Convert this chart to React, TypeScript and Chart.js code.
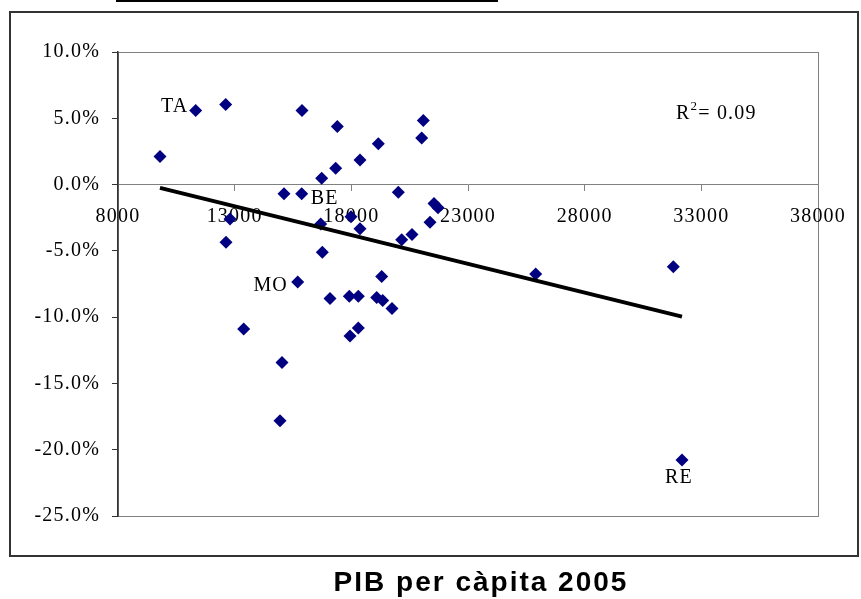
import React, { useEffect, useRef } from 'react';
import { Chart, registerables } from 'chart.js';

Chart.register(...registerables);

// GDP per capita 2005 (x) and growth (%) (y)
const gdpPerCapita = [
  9800, 11330, 12616, 15886, 17399, 21084, 21016, 19156, 18371, 17330,
  16730, 15114, 15873, 20013, 12800, 12629, 16687, 17986, 18371, 16756,
  20159, 20600, 21371, 21543, 21714, 15701, 19301, 17086, 17913, 18299,
  19087, 19344, 19743, 13387, 18299, 17943, 15029, 14943, 25901, 31799,
  32171,
];
const growth = [
  2.11, 5.58, 6.04, 5.58, 4.38, 4.83, 3.52, 3.07, 1.86, 1.23,
  0.48, -0.7, -0.7, -0.58, -2.59, -4.35, -2.97, -2.42, -3.34, -5.11,
  -4.17, -3.77, -2.85, -1.43, -1.74, -7.34, -6.94, -8.6, -8.43, -8.43,
  -8.51, -8.75, -9.34, -10.89, -10.82, -11.42, -13.43, -17.81, -6.74, -6.19,
  -20.78,
];

// linear trend line end points
const trendX = [9800, 32171];
const trendY = [-0.25, -9.96];

const xTicks = [8000, 13000, 18000, 23000, 28000, 33000, 38000];
const yTicks = [-25, -20, -15, -10, -5, 0, 5, 10];

const pointLabels = ['TA', 'BE', 'MO', 'RE'];
const pointLabelIndex = [1, 10, 25, 40];
const rSquared = 0.09;
const xTitle = 'PIB per càpita 2005';

// label placement (style, in pixels relative to the labelled point)
const labelOffsets: Record<string, [number, number]> = {
  TA: [-21, -4],
  BE: [3, 21],
  MO: [-27, 4],
  RE: [-3, 18],
};

const SERIF = '"Liberation Serif", "Times New Roman", serif';

const decorPlugin = {
  id: 'decor',
  beforeDraw(chart: any) {
    const { ctx, chartArea: a } = chart;
    (ctx as any).letterSpacing = '1.2px';
    ctx.save();
    ctx.strokeStyle = '#808080';
    ctx.lineWidth = 1;
    ctx.strokeRect(
      Math.round(a.left) + 0.5,
      Math.round(a.top) + 0.5,
      Math.round(a.right - a.left),
      Math.round(a.bottom - a.top)
    );
    ctx.restore();
  },
  afterDatasetsDraw(chart: any) {
    const { ctx, chartArea: a } = chart;
    const meta = chart.getDatasetMeta(1);
    ctx.save();
    (ctx as any).letterSpacing = '1.2px';
    ctx.fillStyle = '#000';
    ctx.font = `20px ${SERIF}`;
    ctx.textAlign = 'center';
    ctx.textBaseline = 'middle';
    pointLabels.forEach((t, i) => {
      const el = meta.data[pointLabelIndex[i]];
      if (!el) return;
      const [dx, dy] = labelOffsets[t];
      ctx.fillText(t, el.x + dx, el.y + dy);
    });
    // R² annotation
    ctx.textAlign = 'left';
    ctx.textBaseline = 'alphabetic';
    const x0 = a.right - 142;
    const base = a.top + 67;
    ctx.fillText('R', x0, base);
    const wR = ctx.measureText('R').width;
    ctx.font = `13px ${SERIF}`;
    ctx.fillText('2', x0 + wR, base - 9);
    const w2 = ctx.measureText('2').width;
    ctx.font = `20px ${SERIF}`;
    ctx.fillText('= ' + rSquared.toFixed(2), x0 + wR + w2, base);
    ctx.restore();
  },
};

export default function App() {
  const canvasRef = useRef<HTMLCanvasElement | null>(null);

  useEffect(() => {
    const canvas = canvasRef.current;
    if (!canvas) return;
    const chart = new Chart(canvas, {
      type: 'scatter',
      data: {
        datasets: [
          {
            label: 'trend',
            data: trendX.map((x, i) => ({ x, y: trendY[i] })),
            showLine: true,
            borderColor: '#000000',
            borderWidth: 4,
            pointRadius: 0,
            order: 0,
          } as any,
          {
            label: 'regions',
            data: gdpPerCapita.map((x, i) => ({ x, y: growth[i] })),
            pointStyle: 'rectRot',
            pointRadius: 6.5,
            pointBorderWidth: 0,
            backgroundColor: '#000080',
            borderColor: '#000080',
            order: 1,
          } as any,
        ],
      },
      options: {
        responsive: false,
        animation: false,
        devicePixelRatio: 1,
        layout: { padding: { left: 0, top: 52, right: 43, bottom: 83 } },
        plugins: {
          legend: { display: false },
          tooltip: { enabled: false },
          title: { display: false },
        },
        scales: {
          x: {
            type: 'linear',
            position: { y: 0 } as any,
            min: xTicks[0],
            max: xTicks[xTicks.length - 1],
            afterBuildTicks: (s: any) => {
              s.ticks = xTicks.map((v) => ({ value: v }));
            },
            ticks: {
              autoSkip: false,
              maxRotation: 0,
              padding: 14,
              color: '#000',
              font: { family: SERIF, size: 20 },
              callback: (v: any) => String(v),
            },
            grid: { drawOnChartArea: false, tickLength: 6, color: '#808080' },
            border: { display: true, color: '#808080', width: 1 },
          },
          y: {
            type: 'linear',
            position: 'left',
            min: yTicks[0],
            max: yTicks[yTicks.length - 1],
            afterBuildTicks: (s: any) => {
              s.ticks = yTicks.map((v) => ({ value: v }));
            },
            afterFit: (s: any) => {
              s.width = 118;
            },
            ticks: {
              autoSkip: false,
              padding: 12,
              color: '#000',
              font: { family: SERIF, size: 20 },
              callback: (v: any) => Number(v).toFixed(1) + '%',
            },
            grid: { drawOnChartArea: false, tickLength: 6, color: '#333333' },
            border: { display: true, color: '#333333', width: 1.5 },
          },
        } as any,
      },
      plugins: [decorPlugin],
    });
    return () => chart.destroy();
  }, []);

  return (
    <div style={{ position: 'absolute', left: 0, top: 0, width: 861, height: 599, background: '#fff', overflow: 'hidden' }}>
      <div style={{ position: 'absolute', left: 116, top: 0, width: 382, height: 2, background: '#000' }} />
      <div
        style={{
          position: 'absolute',
          left: 9,
          top: 11,
          width: 850,
          height: 546,
          boxSizing: 'border-box',
          border: '2px solid #333',
        }}
      />
      <canvas
        ref={canvasRef}
        width={861}
        height={599}
        style={{ position: 'absolute', left: 0, top: 0, width: 861, height: 599 }}
      />
      <div
        style={{
          position: 'absolute',
          left: 481,
          top: 566,
          transform: 'translateX(-50%)',
          fontFamily: '"Liberation Sans", Arial, sans-serif',
          fontWeight: 'bold',
          fontSize: 28,
          letterSpacing: '2px',
          lineHeight: '32px',
          whiteSpace: 'nowrap',
          color: '#000',
        }}
      >
        {xTitle}
      </div>
    </div>
  );
}
